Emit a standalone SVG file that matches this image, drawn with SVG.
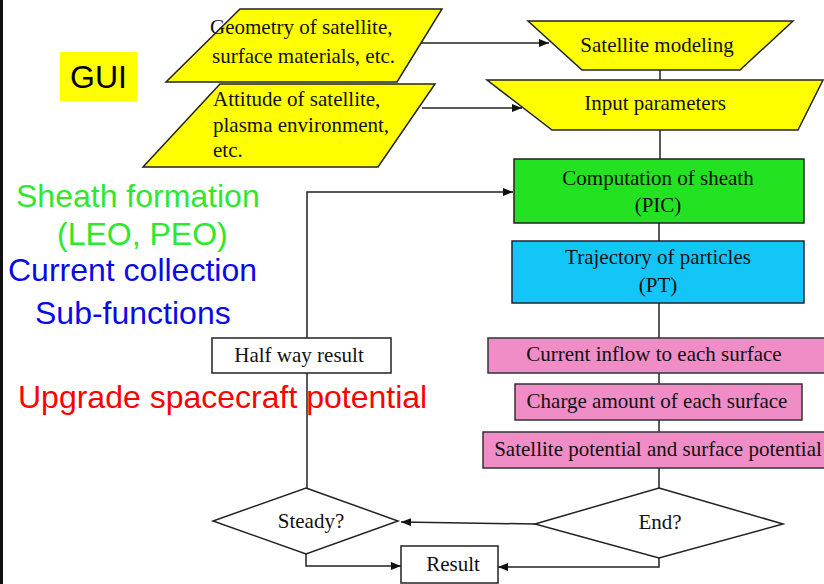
<svg xmlns="http://www.w3.org/2000/svg" width="824" height="584" viewBox="0 0 824 584">
<defs>
<style>
.s{font-family:"Liberation Serif","Times New Roman",serif;font-size:21px;fill:#111;text-anchor:middle}
.sl{font-family:"Liberation Serif","Times New Roman",serif;font-size:21px;fill:#111}
.a{font-family:"Liberation Sans",Arial,sans-serif;font-size:32px}
.y{fill:#ffff00;stroke:#222;stroke-width:1.5}
.w{fill:#fff;stroke:#222;stroke-width:1.5}
.p{fill:#f08cc6;stroke:#333;stroke-width:1.5}
.c{fill:none;stroke:#222;stroke-width:1.5}
</style>
<marker id="ah" viewBox="0 0 10 8" refX="10" refY="4" markerWidth="10" markerHeight="8" markerUnits="userSpaceOnUse" orient="auto">
<path d="M0,0 L10,4 L0,8 z" fill="#111"/>
</marker>
</defs>
<rect width="824" height="584" fill="#fff"/>
<rect x="0" y="0" width="3" height="584" fill="#111"/>

<g id="labels">
<rect x="60" y="52" width="77" height="49" fill="#ffff00"/>
<text class="a" x="98.5" y="88" text-anchor="middle" font-size="31" fill="#000">GUI</text>
<text class="a" x="16" y="207" fill="#2ee82e">Sheath formation</text>
<text class="a" x="57" y="245" fill="#2ee82e">(LEO, PEO)</text>
<text class="a" x="8" y="281" fill="#0a0ae8">Current collection</text>
<text class="a" x="35" y="324" fill="#0a0ae8">Sub-functions</text>
<text class="a" x="18" y="408" fill="#ff0000">Upgrade spacecraft potential</text>
</g>

<g id="connectors">
<path class="c" d="M420,43 H549" marker-end="url(#ah)"/>
<path class="c" d="M422,108 H522" marker-end="url(#ah)"/>
<path class="c" d="M660,70 V80"/>
<path class="c" d="M660,130 V159"/>
<path class="c" d="M659,223 V241"/>
<path class="c" d="M659,303 V338"/>
<path class="c" d="M659,373 V384"/>
<path class="c" d="M659,420 V432"/>
<path class="c" d="M659,468 V488"/>
<path class="c" d="M535,524 L401,522" marker-end="url(#ah)"/>
<path class="c" d="M659,558 V567 H498" marker-end="url(#ah)"/>
<path class="c" d="M306,554 V566 H401" marker-end="url(#ah)"/>
<path class="c" d="M307,488 V373"/>
<path class="c" d="M307,338 V192 H513" marker-end="url(#ah)"/>
</g>

<g id="geometry">
<polygon class="y" points="240,9 442,9 397,82 166,82"/>
<text class="sl" x="210" y="34">Geometry of satellite,</text>
<text class="sl" x="212" y="63">surface materials, etc.</text>
</g>
<g id="attitude">
<polygon class="y" points="220,84 435,84 378,167 143,167"/>
<text class="sl" x="213" y="106">Attitude of satellite,</text>
<text class="sl" x="213" y="132">plasma environment,</text>
<text class="sl" x="213" y="157">etc.</text>
</g>
<g id="satellite-modeling">
<polygon class="y" points="528,21 793,21 740,70 582,70"/>
<text class="s" x="657" y="52">Satellite modeling</text>
</g>
<g id="input-parameters">
<polygon class="y" points="487,80 823,80 798,130 552,130"/>
<text class="s" x="655" y="110">Input parameters</text>
</g>
<g id="sheath">
<rect x="514" y="159" width="290" height="64" fill="#22e222" stroke="#222" stroke-width="1.5"/>
<text class="s" x="658" y="185" fill="#0f3a0f">Computation of sheath</text>
<text class="s" x="658" y="212" fill="#0f3a0f">(PIC)</text>
</g>
<g id="trajectory">
<rect x="512" y="241" width="292" height="62" fill="#12c6f8" stroke="#223" stroke-width="1.5"/>
<text class="s" x="658" y="264" fill="#0a2240">Trajectory of particles</text>
<text class="s" x="658" y="292" fill="#0a2240">(PT)</text>
</g>
<g id="current-inflow">
<rect class="p" x="488" y="338" width="345" height="35"/>
<text class="s" x="654" y="361" fill="#2a0a20">Current inflow to each surface</text>
</g>
<g id="charge-amount">
<rect class="p" x="515" y="384" width="287" height="36"/>
<text class="s" x="657" y="408" fill="#2a0a20">Charge amount of each surface</text>
</g>
<g id="potential">
<rect class="p" x="483" y="432" width="350" height="36"/>
<text class="s" x="658" y="456" fill="#2a0a20">Satellite potential and surface potential</text>
</g>
<g id="halfway">
<rect class="w" x="212" y="338" width="179" height="35"/>
<text class="s" x="299" y="362">Half way result</text>
</g>
<g id="end">
<polygon class="w" points="659,488 783,524 659,558 535,524"/>
<text class="s" x="660" y="529">End?</text>
</g>
<g id="steady">
<polygon class="w" points="306,488 398,521 306,554 213,521"/>
<text class="s" x="311" y="528">Steady?</text>
</g>
<g id="result">
<rect class="w" x="401" y="546" width="97" height="37"/>
<text class="s" x="453" y="571">Result</text>
</g>
</svg>
